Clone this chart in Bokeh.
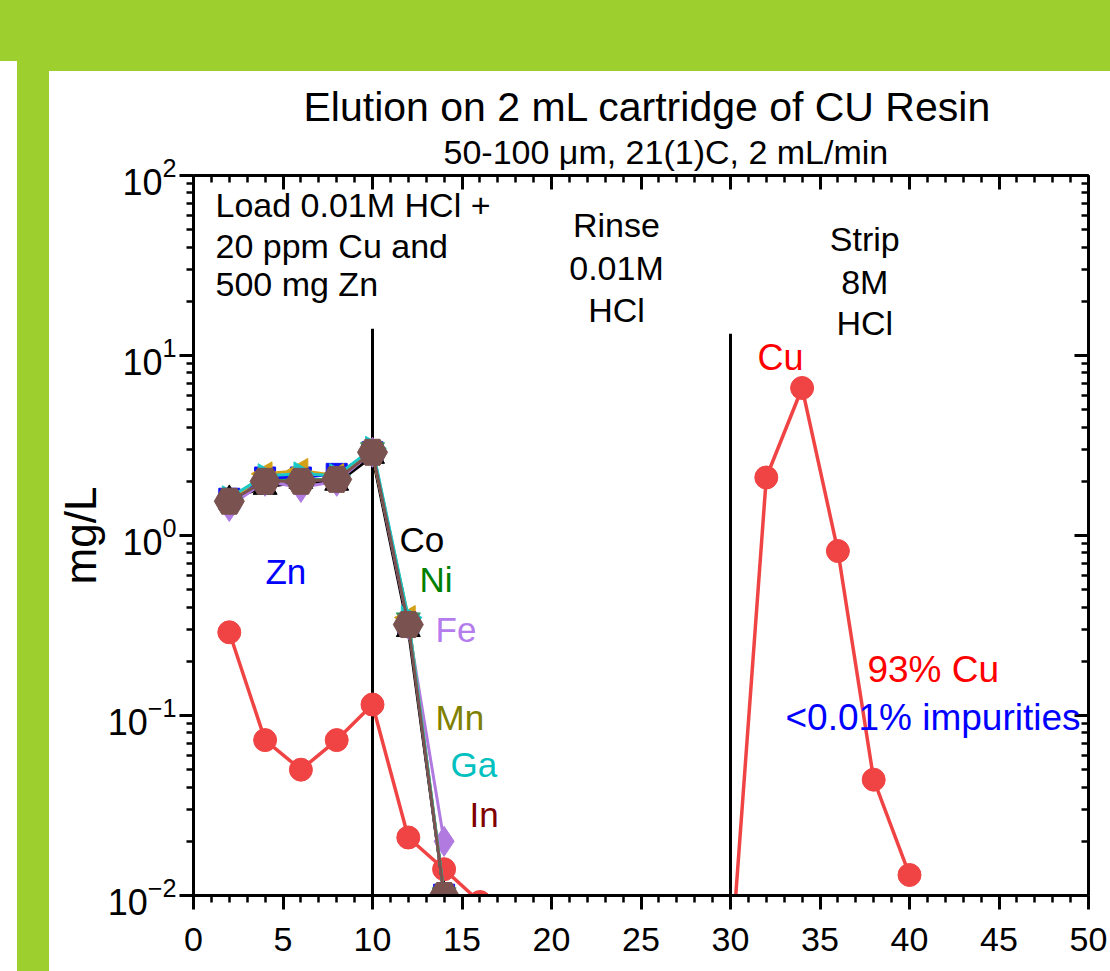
import math
from bokeh.plotting import figure
from bokeh.layouts import column, row
from bokeh.models import (LinearAxis, LogAxis, Label, Title, Div, SingleIntervalTicker,
                          LogTicker, Range1d, CustomJSTickFormatter)
from bokeh.embed import file_html
from bokeh.resources import INLINE

FONT = "Liberation Sans"

# ---------------- data ----------------
fraction_ml = [2, 4, 6, 8, 10, 12, 14, 16, 18, 20, 22, 24, 26, 28, 30, 32, 34, 36, 38, 40]
cu_mg_l = [0.29, 0.073, 0.050, 0.073, 0.115, 0.021, 0.014, 0.0092, 0.004, 0.004,
           0.004, 0.004, 0.004, 0.004, 0.004, 2.1, 6.6, 0.82, 0.044, 0.013]

load_fraction_ml = [2, 4, 6, 8, 10, 12, 14]
zn_mg_l = [1.60, 2.10, 2.10, 2.20, 2.90, 0.32, 0.0101]
co_mg_l = [1.60, 1.85, 2.00, 1.95, 2.75, 0.30, 0.0101]
ni_mg_l = [1.50, 2.00, 2.05, 2.05, 3.00, 0.34, 0.0101]
fe_mg_l = [1.45, 2.00, 1.85, 2.00, 2.90, 0.32, 0.020]
mn_mg_l = [1.55, 2.20, 2.30, 2.15, 2.85, 0.35, 0.0101]
ga_mg_l = [1.62, 2.15, 2.20, 2.15, 3.05, 0.35, 0.0101]
in_mg_l = [1.55, 2.00, 2.00, 2.05, 2.90, 0.32, 0.0100]

phase_boundary_ml = [10, 30]
phase_line_bottom = [0.01, 0.01]
phase_line_top = [14.1, 13.2]

title_text = "Elution on 2 mL cartridge of CU Resin"
subtitle_text = "50-100 \u03bcm, 21(1)C, 2 mL/min"
y_label_text = "mg/L"

# annotation texts: (text, x, y, color, font size, align)
annotations = [
    ("Load 0.01M HCl +", 1.23, 68.2, "black", "34px", "left"),
    ("20 ppm Cu and", 1.23, 40.8, "black", "34px", "left"),
    ("500 mg Zn", 1.23, 24.8, "black", "34px", "left"),
    ("Rinse", 23.63, 52.9, "black", "34px", "center"),
    ("0.01M", 23.63, 30.6, "black", "34px", "center"),
    ("HCl", 23.63, 18.0, "black", "34px", "center"),
    ("Strip", 37.5, 44.4, "black", "34px", "center"),
    ("8M", 37.5, 25.7, "black", "34px", "center"),
    ("HCl", 37.5, 15.1, "black", "34px", "center"),
    ("Zn", 4.02, 0.630, "#0000ff", "35px", "left"),
    ("Co", 11.51, 0.950, "black", "35px", "left"),
    ("Ni", 12.63, 0.569, "#008000", "35px", "left"),
    ("Fe", 13.52, 0.300, "#b57ced", "35px", "left"),
    ("Mn", 13.52, 0.097, "#808000", "35px", "left"),
    ("Ga", 14.36, 0.0535, "#00c0c0", "35px", "left"),
    ("In", 15.42, 0.0282, "#800000", "35px", "left"),
    ("Cu", 31.51, 9.75, "#ff0000", "36px", "left"),
    ("93% Cu", 37.65, 0.180, "#ff0000", "37px", "left"),
    ("<0.01% impurities", 33.07, 0.0975, "#0000ff", "37px", "left"),
]

GREEN = "#9dcf2e"
RED = "#f04444"

p = figure(width=1061, height=900,
           x_range=Range1d(0, 50), y_range=Range1d(0.01, 100), y_axis_type="log",
           output_backend="svg", toolbar_location=None,
           min_border_left=144, min_border_right=22, min_border_top=104, min_border_bottom=76)
p.xgrid.visible = False
p.ygrid.visible = False
p.outline_line_color = None
p.background_fill_color = "white"
p.border_fill_color = "white"


def style_axis(ax, inside, size="34px"):
    ax.axis_line_width = 3
    ax.major_tick_line_width = 3
    ax.minor_tick_line_width = 2.5
    if inside:
        ax.major_tick_in, ax.major_tick_out = 14, 0
        ax.minor_tick_in, ax.minor_tick_out = 7, 0
    else:
        ax.major_tick_in, ax.major_tick_out = 0, 14
        ax.minor_tick_in, ax.minor_tick_out = 0, 7
    ax.major_label_text_font = FONT
    ax.major_label_text_font_size = size
    ax.major_label_text_color = "black"


xa = p.xaxis[0]
xa.ticker = SingleIntervalTicker(interval=5, num_minor_ticks=5)
style_axis(xa, False)
xa.major_label_standoff = 18

ya = p.yaxis[0]
ya.ticker = LogTicker(num_minor_ticks=10)
style_axis(ya, False, "36px")
ya.major_label_standoff = 3
ya.axis_label = y_label_text
ya.axis_label_text_font = FONT
ya.axis_label_text_font_size = "44px"
ya.axis_label_text_font_style = "normal"
ya.axis_label_text_color = "black"
ya.axis_label_standoff = 0

top = LinearAxis(ticker=SingleIntervalTicker(interval=5, num_minor_ticks=5),
                 formatter=CustomJSTickFormatter(code="return ''"))
style_axis(top, True)
top.major_label_standoff = 0
p.add_layout(top, "above")

right = LogAxis(ticker=LogTicker(num_minor_ticks=10),
                formatter=CustomJSTickFormatter(code="return ''"))
style_axis(right, True)
right.major_label_standoff = 0
p.add_layout(right, "right")

p.add_layout(Title(text=subtitle_text, align="left", vertical_align="top", text_font=FONT,
                   text_font_size="34px", text_font_style="normal", text_color="black",
                   standoff=6, offset=250), "above")
p.add_layout(Title(text=title_text, align="left", text_font=FONT, text_font_size="41px",
                   text_font_style="normal", text_color="black", standoff=0, offset=110), "above")

# phase boundary lines
p.segment(x0=phase_boundary_ml, y0=phase_line_bottom, x1=phase_boundary_ml, y1=phase_line_top,
          line_color="black", line_width=3)

# Cu
p.line(fraction_ml, cu_mg_l, line_color=RED, line_width=3.5)
p.scatter(fraction_ml, cu_mg_l, marker="circle", size=23, fill_color=RED, line_color=RED)

# other metals
series = [
    (zn_mg_l, "#1010ff", "square", 0.0, 21),
    (co_mg_l, "black", "triangle", 0.0, 24),
    (ni_mg_l, "#339966", "inverted_triangle", 0.0, 24),
    (fe_mg_l, "#b07ae0", "diamond", 0.0, 30),
    (mn_mg_l, "#d4a017", "triangle", math.pi / 2, 24),
    (ga_mg_l, "#1ac8c8", "triangle", -math.pi / 2, 24),
    (in_mg_l, "#7a5250", "hex", 0.0, 30),
]
for vals, col, mk, ang, sz in series:
    p.line(load_fraction_ml, vals, line_color=col, line_width=3)
    p.scatter(load_fraction_ml, vals, marker=mk, angle=ang, size=sz, fill_color=col, line_color=col)

for txt, x, y, col, fs, al in annotations:
    p.add_layout(Label(x=x, y=y, text=txt, text_color=col, text_font=FONT, text_font_size=fs,
                       text_align=al, text_baseline="alphabetic"))


def block(w, h, color):
    st = {"background-color": color} if color else {}
    return Div(text="", width=w, height=h, margin=0, styles=st)


page = column(
    block(1110, 61, GREEN),
    row(block(17, 910, None), block(32, 910, GREEN),
        column(block(1061, 10, GREEN), p, spacing=0), spacing=0),
    spacing=0,
)

open("out.html", "w").write(file_html(page, INLINE))
